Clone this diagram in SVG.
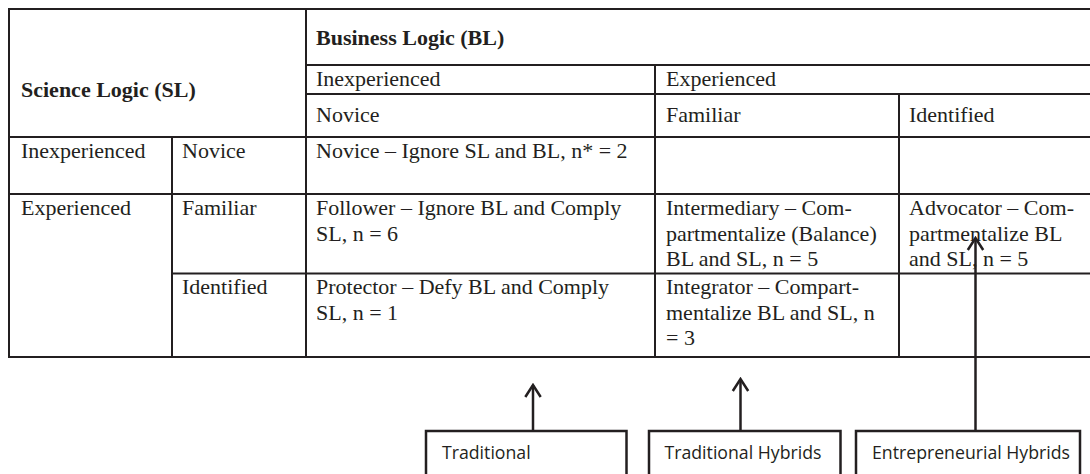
<svg xmlns="http://www.w3.org/2000/svg" width="1090" height="474" viewBox="0 0 1090 474">
  <style>
    .grid { stroke: #231f20; stroke-width: 2; fill: none; }
    .cell { font-family: "Liberation Serif", "Times New Roman", serif; font-size: 22px; fill: #231f20; }
    .bold { font-weight: bold; }
    .box { fill: #ffffff; stroke: #231f20; stroke-width: 2.5; }
    .label { font-family: "Open Sans", "Liberation Sans", sans-serif; font-size: 17.7px; fill: #231f20; }
    .conn { stroke: #231f20; stroke-width: 2.5; fill: none; }
  </style>
  <defs>
    <!-- open chevron head, drawn pointing along +x so orient="auto" follows the line -->
    <marker id="chevron" viewBox="0 0 16 20" markerWidth="16" markerHeight="20" refX="14" refY="10" orient="auto" markerUnits="userSpaceOnUse">
      <path d="M2,2.3 L14,10 L2,17.7" fill="none" stroke="#231f20" stroke-width="2.5"/>
    </marker>
  </defs>
  <rect width="1090" height="474" fill="#ffffff"/>

  <!-- table grid -->
  <g id="table-grid" class="grid">
    <line x1="9" y1="9" x2="1090" y2="9"/>
    <line x1="306" y1="65" x2="1090" y2="65"/>
    <line x1="306" y1="94" x2="1090" y2="94"/>
    <line x1="9" y1="137" x2="1090" y2="137"/>
    <line x1="9" y1="194" x2="1090" y2="194"/>
    <line x1="172" y1="273.5" x2="1090" y2="273.5"/>
    <line x1="9" y1="357" x2="1090" y2="357"/>
    <line x1="9" y1="8" x2="9" y2="358"/>
    <line x1="306" y1="8" x2="306" y2="358"/>
    <line x1="172" y1="137" x2="172" y2="358"/>
    <line x1="655" y1="65" x2="655" y2="358"/>
    <line x1="899" y1="94" x2="899" y2="358"/>
  </g>

  <!-- header cells -->
  <g id="hdr-sl"><text class="cell bold" x="21" y="97">Science Logic (SL)</text></g>
  <g id="hdr-bl"><text class="cell bold" x="316" y="45">Business Logic (BL)</text></g>
  <g id="hdr-bl-inexp"><text class="cell" x="316" y="86">Inexperienced</text></g>
  <g id="hdr-bl-exp"><text class="cell" x="666" y="86">Experienced</text></g>
  <g id="hdr-bl-novice"><text class="cell" x="316" y="122">Novice</text></g>
  <g id="hdr-bl-familiar"><text class="cell" x="666" y="122">Familiar</text></g>
  <g id="hdr-bl-identified"><text class="cell" x="909" y="122">Identified</text></g>

  <!-- row headers -->
  <g id="row-inexp"><text class="cell" x="21" y="158">Inexperienced</text></g>
  <g id="row-novice"><text class="cell" x="182" y="158">Novice</text></g>
  <g id="row-exp"><text class="cell" x="21" y="215">Experienced</text></g>
  <g id="row-familiar"><text class="cell" x="182" y="215">Familiar</text></g>
  <g id="row-identified"><text class="cell" x="182" y="294">Identified</text></g>

  <!-- body cells -->
  <g id="cell-novice"><text class="cell" x="316" y="158">Novice – Ignore SL and BL, n* = 2</text></g>
  <g id="cell-follower">
    <text class="cell" x="316" y="215">Follower – Ignore BL and Comply</text>
    <text class="cell" x="316" y="240.5">SL, n = 6</text>
  </g>
  <g id="cell-intermediary">
    <text class="cell" x="666" y="215">Intermediary – Com-</text>
    <text class="cell" x="666" y="240.5">partmentalize (Balance)</text>
    <text class="cell" x="666" y="266">BL and SL, n = 5</text>
  </g>
  <g id="cell-advocator">
    <text class="cell" x="909" y="215">Advocator – Com-</text>
    <text class="cell" x="909" y="240.5">partmentalize BL</text>
    <text class="cell" x="909" y="266">and SL, n = 5</text>
  </g>
  <g id="cell-protector">
    <text class="cell" x="316" y="294">Protector – Defy BL and Comply</text>
    <text class="cell" x="316" y="319.5">SL, n = 1</text>
  </g>
  <g id="cell-integrator">
    <text class="cell" x="666" y="294">Integrator – Compart-</text>
    <text class="cell" x="666" y="319.5">mentalize BL and SL, n</text>
    <text class="cell" x="666" y="345">= 3</text>
  </g>

  <!-- connectors -->
  <g id="connectors" class="conn">
    <line x1="533" y1="431" x2="533" y2="385" marker-end="url(#chevron)"/>
    <line x1="740.5" y1="431" x2="740.5" y2="379" marker-end="url(#chevron)"/>
    <line x1="975.5" y1="431" x2="975.5" y2="238" marker-end="url(#chevron)"/>
  </g>

  <!-- category boxes -->
  <g id="node-traditional">
    <rect class="box" x="426" y="431" width="200.5" height="60"/>
    <text class="label" x="442" y="459">Traditional</text>
  </g>
  <g id="node-traditional-hybrids">
    <rect class="box" x="649" y="431" width="191.5" height="60"/>
    <text class="label" x="664.5" y="459">Traditional Hybrids</text>
  </g>
  <g id="node-entrepreneurial-hybrids">
    <rect class="box" x="856" y="431" width="224" height="60"/>
    <text class="label" x="872" y="459">Entrepreneurial Hybrids</text>
  </g>
</svg>
